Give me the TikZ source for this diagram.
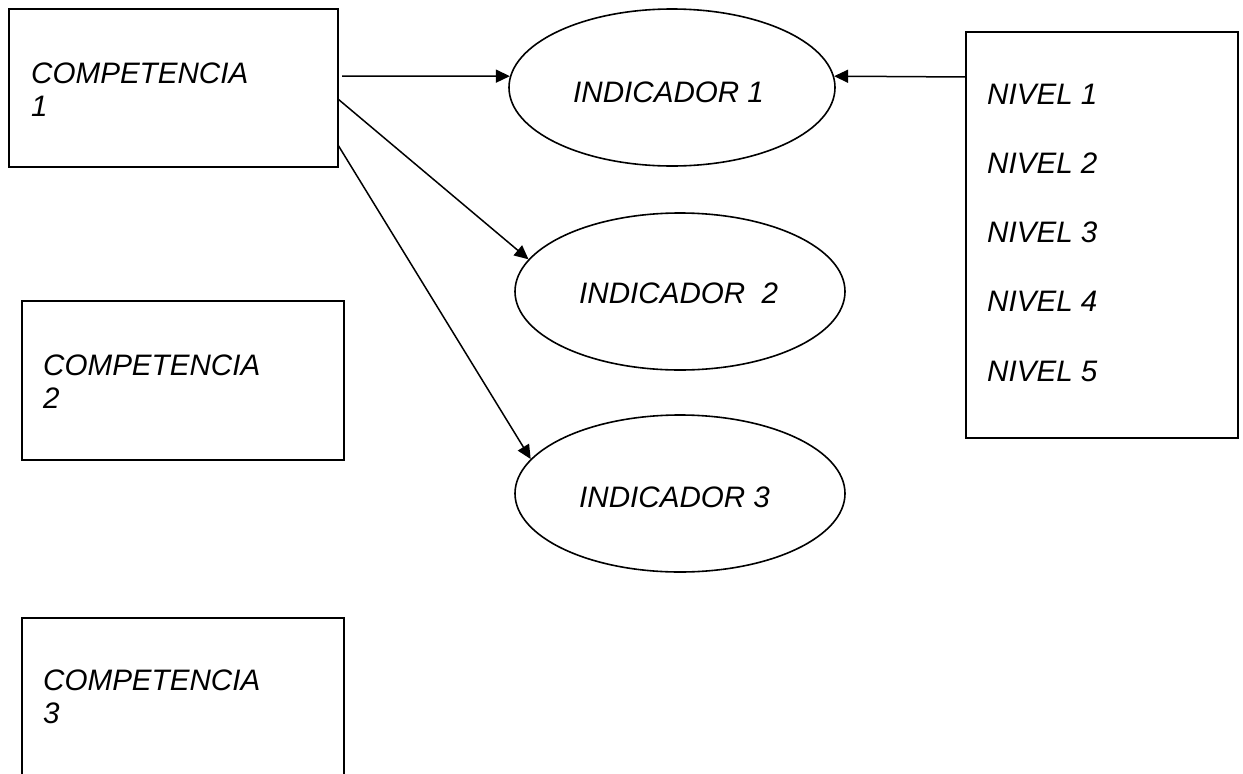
\documentclass[tikz,border=0pt]{standalone}
\usepackage{fontspec}
\setmainfont{Liberation Sans}
\usetikzlibrary{shapes.geometric,arrows.meta}
\tikzset{
  box/.style={draw,rectangle,line width=1.6pt,inner sep=0pt},
  oval/.style={draw,ellipse,line width=1.6pt,inner sep=0pt},
  lbl/.style={inner sep=0pt,anchor=base west,align=left,font=\fontsize{29.6}{33.5}\selectfont\itshape},
  conn/.style={line width=1.5pt,-{Triangle[length=14pt,width=13pt]}}
}
\begin{document}
\begin{tikzpicture}[x=1pt,y=-1pt]
\useasboundingbox (0,0) rectangle (1243,774);
\clip (0,0) rectangle (1243,774);
% boxes
\node[box,minimum width=329pt,minimum height=158pt] (c1) at (173.5,88) {};
\node[box,minimum width=322pt,minimum height=159pt] (c2) at (183,380.5) {};
\node[box,minimum width=322pt,minimum height=182pt] (c3) at (183,709) {};
\node[box,minimum width=272pt,minimum height=406pt] (lv) at (1102,235) {};
% ellipses
\node[oval,minimum width=326pt,minimum height=157pt] (i1) at (672,87.5) {};
\node[oval,minimum width=330pt,minimum height=157pt] (i2) at (680,291.5) {};
\node[oval,minimum width=330pt,minimum height=157pt] (i3) at (680,493.5) {};
% texts (base anchor of a multi-line node is its last line)
\node[lbl] (tc1) at (31,116.5) {COMPETENCIA\\1};
\node[lbl] (tc2) at (43,408.5) {COMPETENCIA\\2};
\node[lbl] (tc3) at (43,723.5) {COMPETENCIA\\3};
\node[lbl] (ti1) at (573,102) {INDICADOR 1};
\node[lbl] (ti2) at (579,303) {INDICADOR\ \ 2};
\node[lbl] (ti3) at (579,507) {INDICADOR 3};
\node[lbl,font=\fontsize{29.6}{69.25}\selectfont\itshape] (tlv) at (987,381) {NIVEL 1\\NIVEL 2\\NIVEL 3\\NIVEL 4\\NIVEL 5};
% connector start points
\coordinate (s1) at (342,76);
\coordinate (s2) at (338,99);
\coordinate (s3) at (338,145);
\coordinate (s4) at (966,77);
\draw[conn] (s1) -- (i1.176);
\draw[conn] (s2) -- (i2.168);
\draw[conn] (s3) -- (i3.167);
\draw[conn] (s4) -- (i1.4);
\end{tikzpicture}
\end{document}
